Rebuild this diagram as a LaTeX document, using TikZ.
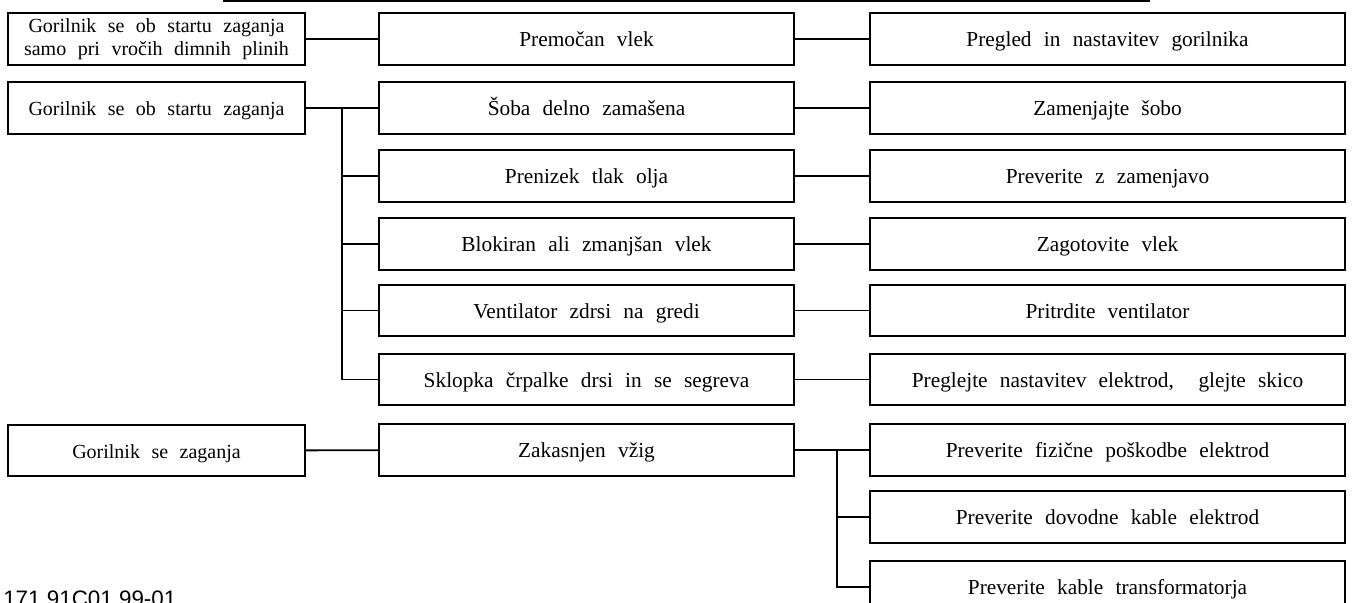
\documentclass[tikz,border=0pt]{standalone}
\usepackage{fontspec}
\setmainfont{Liberation Serif}[WordSpace=2.3]
\newfontfamily\codefont{Liberation Sans}
\begin{document}
\begin{tikzpicture}[x=0.75pt,y=-0.75pt,
  box/.style={draw, line width=1.5pt, minimum height=38.5pt, inner sep=0pt, align=center,
              font=\fontsize{16}{18}\selectfont, text height=11.5pt, text depth=0pt},
  colA/.style={box, minimum width=222.75pt, font=\fontsize{15}{17.5}\selectfont},
  colAtwo/.style={draw, line width=1.5pt, minimum height=38.5pt, inner sep=0pt, align=center,
              minimum width=222.75pt, font=\fontsize{15}{17.5}\selectfont},
  colB/.style={box, minimum width=311.25pt},
  colC/.style={box, minimum width=356.25pt},
  link/.style={line width=1.4pt}]
\useasboundingbox (0,0) rectangle (1354,603);
\clip (0,0) rectangle (1354,603);
% frame fragment at top
\coordinate (tl) at (223,0.6);
\coordinate (tr) at (1150,0.6);
\draw[link] (tl) -- (tr);
% column A
\node[colAtwo] (a1) at (156.5,39) {Gorilnik se ob startu zaganja\\samo pri vročih dimnih plinih};
\node[colA] (a2) at (156.5,108) {Gorilnik se ob startu zaganja};
\node[colA] (a7) at (156.5,450.5) {Gorilnik se zaganja};
% column B
\node[colB] (b1) at (586.5,39) {Premočan vlek};
\node[colB] (b2) at (586.5,108) {Šoba delno zamašena};
\node[colB] (b3) at (586.5,176) {Prenizek tlak olja};
\node[colB] (b4) at (586.5,244) {Blokiran ali zmanjšan vlek};
\node[colB] (b5) at (586.5,310.5) {Ventilator zdrsi na gredi};
\node[colB] (b6) at (586.5,379.5) {Sklopka črpalke drsi in se segreva};
\node[colB] (b7) at (586.5,450) {Zakasnjen vžig};
% column C
\node[colC] (c1) at (1107.5,39) {Pregled in nastavitev gorilnika};
\node[colC] (c2) at (1107.5,108) {Zamenjajte šobo};
\node[colC] (c3) at (1107.5,176) {Preverite z zamenjavo};
\node[colC] (c4) at (1107.5,244) {Zagotovite vlek};
\node[colC] (c5) at (1107.5,310.5) {Pritrdite ventilator};
\node[colC] (c6) at (1107.5,379.5) {Preglejte nastavitev elektrod,\ \ glejte skico};
\node[colC] (c7) at (1107.5,450) {Preverite fizične poškodbe elektrod};
\node[colC] (c8) at (1107.5,517) {Preverite dovodne kable elektrod};
\node[colC] (c9) at (1107.5,587) {Preverite kable transformatorja};
% code
\node[anchor=base west, inner sep=0pt, font=\codefont\fontsize{16.8}{19}\selectfont] (code) at (3,606) {171.91C01.99-01};
% connectors
\coordinate (t1) at (342,108);
\coordinate (t2) at (837,450);
\draw[link] (a1) -- (b1);
\draw[link] (b1) -- (c1);
\draw[link] (a2.east) -- (b2.west);
\draw[link] (t1) |- (b6.west);
\draw[link] (t1 |- b3.west) -- (b3.west);
\draw[link] (t1 |- b4.west) -- (b4.west);
\draw[link] (t1 |- b5.west) -- (b5.west);
\foreach \i in {2,...,6} { \draw[link] (b\i) -- (c\i); }
\draw[link] (a7) -- (b7);
\draw[link] (b7.east) -- (c7.west);
\draw[link] (t2) |- (c9.west);
\draw[link] (t2 |- c8.west) -- (c8.west);
\end{tikzpicture}
\end{document}
